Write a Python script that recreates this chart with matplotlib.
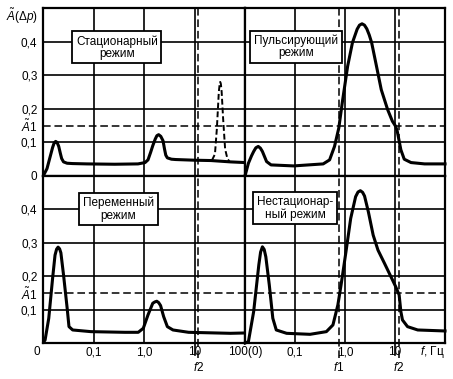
import matplotlib
matplotlib.use("Agg")
import matplotlib.pyplot as plt
from matplotlib.ticker import NullLocator
import matplotlib.transforms as mtransforms

plt.rcParams['font.family'] = ['Liberation Sans', 'DejaVu Sans']
plt.rcParams['mathtext.fontset'] = 'custom'
plt.rcParams['mathtext.rm'] = 'Liberation Sans'
plt.rcParams['mathtext.it'] = 'Liberation Sans:italic'
plt.rcParams['mathtext.sf'] = 'Liberation Sans'

# frequencies in Hz (0.01 stands for the "0" end of each panel), amplitudes
stat_f = [0.0101, 0.012, 0.014, 0.0155, 0.0166, 0.0178, 0.019, 0.0205, 0.022, 0.0234, 0.0255, 0.03,
          0.0386, 0.074, 0.263, 0.76, 1.05, 1.2, 1.35, 1.49, 1.67, 1.8, 1.95, 2.15, 2.38, 2.55, 2.7,
          2.9, 3.5, 4.26, 10, 21.2, 51.5, 100]
stat_a = [0.0, 0.022, 0.06, 0.085, 0.098, 0.103, 0.1, 0.088, 0.068, 0.052, 0.042, 0.038,
          0.037, 0.036, 0.035, 0.036, 0.04, 0.048, 0.07, 0.09, 0.11, 0.12, 0.123, 0.118, 0.105, 0.08, 0.062,
          0.054, 0.05, 0.049, 0.047, 0.046, 0.042, 0.04]
stat_peak_f = [22.2, 25.4, 27.7, 30.3, 31.4, 32.3, 33.3, 34.5, 36.9, 40.4, 45.1, 49.2]
stat_peak_a = [0.047, 0.065, 0.14, 0.25, 0.272, 0.28, 0.274, 0.25, 0.17, 0.08, 0.05, 0.044]

puls_f = [0.01, 0.0117, 0.0135, 0.0149, 0.0165, 0.0184, 0.0203, 0.0223, 0.027, 0.0332, 0.094, 0.366,
          0.492, 0.617, 0.752, 0.901, 1.13, 1.41, 1.75, 1.95, 2.19, 2.45, 2.73, 3.05, 3.41, 4.26, 5.31,
          7.11, 8.87, 10.3, 11.1, 13.1, 15.3, 20.9, 39.1, 100]
puls_a = [0.0, 0.038, 0.06, 0.073, 0.084, 0.088, 0.083, 0.073, 0.043, 0.033, 0.03, 0.036,
          0.048, 0.088, 0.143, 0.228, 0.327, 0.397, 0.437, 0.449, 0.453, 0.449, 0.438, 0.42, 0.397, 0.327, 0.257,
          0.198, 0.163, 0.148, 0.133, 0.078, 0.05, 0.04, 0.036, 0.036]

var_f = [0.01, 0.011, 0.013, 0.0155, 0.0173, 0.0186, 0.0199, 0.0213, 0.0226, 0.0255, 0.0301, 0.0327,
         0.0387, 0.089, 0.417, 0.769, 0.968, 1.2, 1.49, 1.64, 1.79, 1.95, 2.13, 2.45, 2.9, 3.75, 7.64,
         51.5, 100]
var_a = [0.0, 0.009, 0.074, 0.194, 0.263, 0.281, 0.287, 0.282, 0.27, 0.204, 0.104, 0.049,
         0.039, 0.034, 0.032, 0.032, 0.044, 0.084, 0.119, 0.123, 0.125, 0.121, 0.112, 0.079, 0.049, 0.039, 0.032,
         0.029, 0.03]

nonst_f = [0.01, 0.0117, 0.0149, 0.0189, 0.0205, 0.0223, 0.0242, 0.0261, 0.0306, 0.036, 0.0422, 0.068,
           0.2, 0.424, 0.574, 0.72, 0.835, 1.045, 1.3, 1.63, 1.82, 2.03, 2.25, 2.46, 2.7, 2.93, 3.66, 4.57,
           6.14, 8.26, 10.3, 12.1, 13.1, 14.1, 17.8, 28.5, 100]
nonst_a = [0.0, 0.004, 0.094, 0.234, 0.272, 0.288, 0.28, 0.258, 0.174, 0.074, 0.039, 0.029,
           0.026, 0.034, 0.054, 0.114, 0.174, 0.273, 0.373, 0.438, 0.452, 0.456, 0.451, 0.44, 0.415, 0.393, 0.323, 0.278,
           0.239, 0.199, 0.169, 0.144, 0.094, 0.069, 0.049, 0.039, 0.036]

f1 = 0.76
f2 = 12
a1 = 0.15
x_grid = [0.1, 1, 10]
y_grid = [0.1, 0.2, 0.3, 0.4]
y_ticks = [0.1, 0.15, 0.2, 0.3, 0.4]
y_labels = ['0,1', r'$\tilde{A}$1', '0,2', '0,3', '0,4']
x_labels = ['0,1', '1,0', '10']
titles = ['Стационарный\nрежим', 'Пульсирующий\nрежим', 'Переменный\nрежим', 'Нестационар-\nный режим']

FS = 8.5

fig = plt.figure(figsize=(4.53, 3.79), dpi=100)
W, H = 453.0, 379.0
boxes = [(43, 8, 202, 168), (245, 8, 200, 168), (43, 176, 202, 167), (245, 176, 200, 167)]
axes = []
for (x, y, w, h) in boxes:
    ax = fig.add_axes([x / W, 1 - (y + h) / H, w / W, h / H])
    axes.append(ax)

title_pos = [(0.366, 0.765), (0.255, 0.768), (0.374, 0.80), (0.25, 0.808)]

for i, ax in enumerate(axes):
    ax.set_xscale('log')
    ax.set_xlim(0.01, 100)
    ax.set_ylim(0, 0.5)
    ax.xaxis.set_minor_locator(NullLocator())
    ax.yaxis.set_minor_locator(NullLocator())
    for s in ax.spines.values():
        s.set_linewidth(1.6)
    bottom = i >= 2
    for xv in x_grid:
        ext = -0.07 if (bottom and xv == 10) else 0
        ax.axvline(xv, ymin=ext, ymax=1, color='k', lw=1.2, clip_on=False, zorder=1)
    for yv in y_grid:
        ax.axhline(yv, color='k', lw=1.2, zorder=1)
    ax.axhline(a1, color='k', lw=1.1, dashes=(5, 2.5), zorder=1)
    flines = [f2] if i % 2 == 0 else [f1, f2]
    for fv in flines:
        ax.axvline(fv, ymin=-0.09 if bottom else 0, ymax=1, color='k', lw=1.1,
                   dashes=(5, 2.5), clip_on=False, zorder=1)
    ax.tick_params(length=0, pad=4, labelsize=FS)
    if i % 2 == 0:
        ax.set_yticks(y_ticks)
        ax.set_yticklabels(y_labels)
    else:
        ax.set_yticks([])
    ax.set_xticks([])
    ax.text(title_pos[i][0], title_pos[i][1], titles[i], transform=ax.transAxes,
            ha='center', va='center', fontsize=FS, linespacing=1.05, zorder=5,
            bbox=dict(boxstyle='square,pad=0.3', fc='white', ec='black', lw=1.3))

axes[0].plot(stat_f, stat_a, color='k', lw=2.2, solid_joinstyle='round', zorder=3)
axes[0].plot(stat_peak_f, stat_peak_a, color='k', lw=1.4, dashes=(3, 1.5), zorder=3)
axes[1].plot(puls_f, puls_a, color='k', lw=2.2, solid_joinstyle='round', zorder=3, clip_on=False)
axes[2].plot(var_f, var_a, color='k', lw=2.2, solid_joinstyle='round', zorder=3)
axes[3].plot(nonst_f, nonst_a, color='k', lw=2.2, solid_joinstyle='round', zorder=3, clip_on=False)

# top-left extra labels
axes[0].set_yticks([0] + y_ticks)
axes[0].set_yticklabels(['0'] + y_labels)
axes[0].text(-0.025, 0.95, r'$\tilde{A}(\Delta p)$', transform=axes[0].transAxes,
             ha='right', va='center', fontsize=FS)

# x labels on the bottom panels
for i in (2, 3):
    ax = axes[i]
    trans = mtransforms.blended_transform_factory(ax.transData, ax.transAxes)
    for xv, lab in zip(x_grid, x_labels):
        ax.text(xv, -0.055, lab, transform=trans, ha='center', va='center', fontsize=FS)
axes[2].text(-0.03, -0.055, '0', transform=axes[2].transAxes, ha='center', va='center', fontsize=FS)
axes[3].text(0.0, -0.055, '100(0)', transform=axes[3].transAxes, ha='center', va='center', fontsize=FS)
axes[3].text(0.935, -0.055, r'$f$, Гц', transform=axes[3].transAxes, ha='center', va='center', fontsize=FS)

t2 = mtransforms.blended_transform_factory(axes[2].transData, axes[2].transAxes)
axes[2].text(f2, -0.145, r'$f$2', transform=t2, ha='center', va='center', fontsize=FS)
t3 = mtransforms.blended_transform_factory(axes[3].transData, axes[3].transAxes)
axes[3].text(f1, -0.145, r'$f$1', transform=t3, ha='center', va='center', fontsize=FS)
axes[3].text(f2, -0.145, r'$f$2', transform=t3, ha='center', va='center', fontsize=FS)

fig.savefig('out.png', dpi=100)
